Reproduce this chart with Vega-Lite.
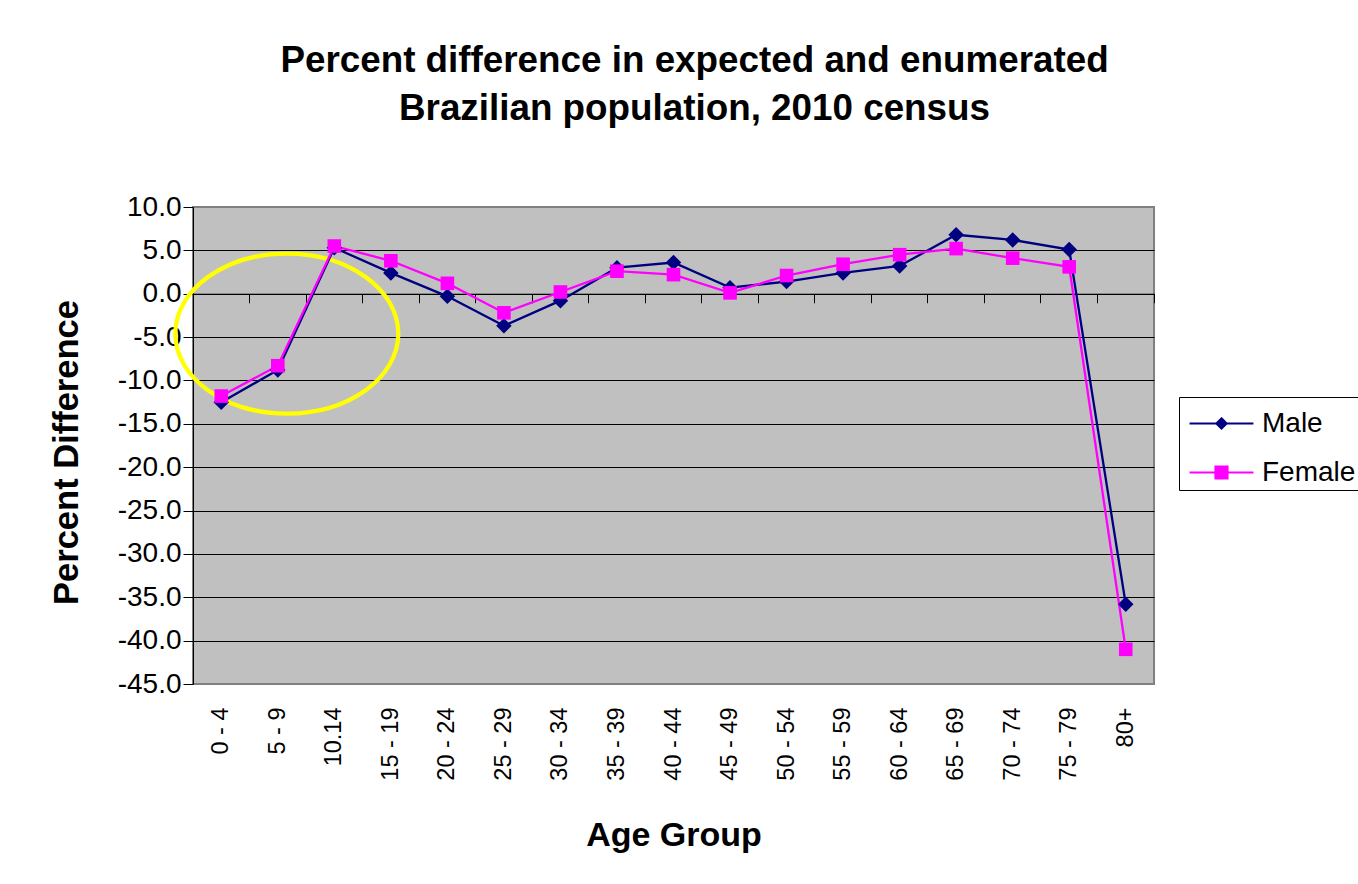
{
  "$schema": "https://vega.github.io/schema/vega-lite/v6.json",
  "width": 961,
  "height": 477,
  "autosize": {"type": "none"},
  "padding": {"left": 193, "top": 207, "right": 204, "bottom": 200},
  "background": "white",
  "title": {
    "text": ["Percent difference in expected and enumerated", "Brazilian population, 2010 census"],
    "font": "Liberation Sans",
    "fontSize": 36.8,
    "fontWeight": "bold",
    "lineHeight": 48,
    "color": "black",
    "anchor": "middle",
    "dx": 21,
    "offset": 65
  },
  "config": {
    "view": {"fill": "#C0C0C0", "stroke": "#808080", "strokeWidth": 2},
    "font": "Liberation Sans"
  },
  "data": {
    "values": [
      {"age": "0 - 4", "series": "Male", "value": -12.5},
      {"age": "5 - 9", "series": "Male", "value": -8.8},
      {"age": "10.14", "series": "Male", "value": 5.3},
      {"age": "15 - 19", "series": "Male", "value": 2.4},
      {"age": "20 - 24", "series": "Male", "value": -0.3},
      {"age": "25 - 29", "series": "Male", "value": -3.7},
      {"age": "30 - 34", "series": "Male", "value": -0.8},
      {"age": "35 - 39", "series": "Male", "value": 3.0},
      {"age": "40 - 44", "series": "Male", "value": 3.6},
      {"age": "45 - 49", "series": "Male", "value": 0.7},
      {"age": "50 - 54", "series": "Male", "value": 1.4},
      {"age": "55 - 59", "series": "Male", "value": 2.4},
      {"age": "60 - 64", "series": "Male", "value": 3.2},
      {"age": "65 - 69", "series": "Male", "value": 6.8},
      {"age": "70 - 74", "series": "Male", "value": 6.2},
      {"age": "75 - 79", "series": "Male", "value": 5.1},
      {"age": "80+", "series": "Male", "value": -35.8},
      {"age": "0 - 4", "series": "Female", "value": -11.8},
      {"age": "5 - 9", "series": "Female", "value": -8.3},
      {"age": "10.14", "series": "Female", "value": 5.5},
      {"age": "15 - 19", "series": "Female", "value": 3.8},
      {"age": "20 - 24", "series": "Female", "value": 1.2},
      {"age": "25 - 29", "series": "Female", "value": -2.2},
      {"age": "30 - 34", "series": "Female", "value": 0.2},
      {"age": "35 - 39", "series": "Female", "value": 2.6},
      {"age": "40 - 44", "series": "Female", "value": 2.2},
      {"age": "45 - 49", "series": "Female", "value": 0.1},
      {"age": "50 - 54", "series": "Female", "value": 2.1},
      {"age": "55 - 59", "series": "Female", "value": 3.4},
      {"age": "60 - 64", "series": "Female", "value": 4.5},
      {"age": "65 - 69", "series": "Female", "value": 5.2},
      {"age": "70 - 74", "series": "Female", "value": 4.1},
      {"age": "75 - 79", "series": "Female", "value": 3.1},
      {"age": "80+", "series": "Female", "value": -41.0}
    ]
  },
  "encoding": {
    "x": {
      "field": "age",
      "type": "nominal",
      "scale": {
        "type": "band",
        "domain": ["0 - 4", "5 - 9", "10.14", "15 - 19", "20 - 24", "25 - 29", "30 - 34", "35 - 39", "40 - 44", "45 - 49", "50 - 54", "55 - 59", "60 - 64", "65 - 69", "70 - 74", "75 - 79", "80+"],
        "paddingInner": 0,
        "paddingOuter": 0
      }
    },
    "y": {
      "field": "value",
      "type": "quantitative",
      "scale": {"domain": [-45, 10], "nice": false, "zero": false},
      "axis": {
        "values": [-45, -40, -35, -30, -25, -20, -15, -10, -5, 0, 5, 10],
        "labelExpr": "datum.value < 0 ? '-' + format(-datum.value, '.1f') : format(datum.value, '.1f')",
        "tickSize": 10,
        "tickColor": "black",
        "tickWidth": 1,
        "domain": true,
        "domainColor": "black",
        "domainWidth": 1,
        "labelFont": "Liberation Sans",
        "labelFontSize": 28,
        "labelColor": "black",
        "labelPadding": 2,
        "grid": true,
        "gridColor": {"condition": {"test": "datum.value == 10 || datum.value == -45", "value": "transparent"}, "value": "black"},
        "gridWidth": 1,
        "gridOpacity": 1,
        "title": "Percent Difference",
        "titleFont": "Liberation Sans",
        "titleFontSize": 34.5,
        "titleFontWeight": "bold",
        "titleColor": "black",
        "titleBaseline": "alphabetic",
        "titleX": -116,
        "titleY": 245
      }
    }
  },
  "layer": [
    {
      "data": {"values": [{"age": "5 - 9", "value": -4.6}]},
      "mark": {
        "type": "point",
        "shape": "M-1,0A1,0.7175,0,1,0,1,0A1,0.7175,0,1,0,-1,0Z",
        "size": 49729,
        "filled": false,
        "stroke": "#FFFF00",
        "strokeWidth": 4.3,
        "opacity": 1,
        "xOffset": 9
      },
      "encoding": {
        "x": {"field": "age", "type": "nominal", "axis": null}
      }
    },
    {
      "mark": {"type": "line", "strokeWidth": 2.3},
      "encoding": {
        "x": {
          "field": "age",
          "type": "nominal",
          "axis": {
            "orient": "bottom",
            "domain": false,
            "ticks": false,
            "tickSize": 0,
            "grid": false,
            "labelAngle": -90,
            "labelAlign": "right",
            "labelBaseline": "middle",
            "labelFont": "Liberation Sans",
            "labelFontSize": 23.5,
            "labelColor": "black",
            "labelPadding": 23,
            "title": "Age Group",
            "titleFont": "Liberation Sans",
            "titleFontSize": 34,
            "titleFontWeight": "bold",
            "titleColor": "black",
            "titleBaseline": "alphabetic",
            "titleY": 161
          }
        },
        "color": {
          "field": "series",
          "type": "nominal",
          "scale": {"domain": ["Male", "Female"], "range": ["#000080", "#FF00FF"]},
          "legend": {
            "orient": "none",
            "legendX": 986,
            "legendY": 190,
            "title": null,
            "strokeColor": "black",
            "fillColor": "white",
            "padding": 3,
            "labelFont": "Liberation Sans",
            "labelFontSize": 28,
            "labelColor": "black",
            "labelOffset": 17,
            "symbolOffset": 16,
            "rowPadding": 11,
            "symbolSize": 2025,
            "symbolStrokeWidth": 2,
            "symbolOpacity": 1,
            "symbolType": "M-1.42,0L1.42,0M0,-0.23L0.23,0L0,0.23L-0.23,0Z",
            "encode": {
              "symbols": {
                "update": {
                  "shape": {"signal": "datum.value === 'Male' ? 'M-1.42,0L1.42,0M0,-0.23L0.23,0L0,0.23L-0.23,0Z' : 'M-1.42,0L1.42,0M-0.27,-0.27L0.27,-0.27L0.27,0.27L-0.27,0.27Z'"},
                  "fill": {"scale": "color", "field": "value"},
                  "stroke": {"scale": "color", "field": "value"}
                }
              }
            }
          }
        }
      }
    },
    {
      "transform": [{"filter": "datum.series === 'Male'"}],
      "mark": {"type": "point", "filled": true, "shape": "diamond", "size": 240, "opacity": 1},
      "encoding": {
        "x": {
          "field": "age",
          "type": "nominal",
          "axis": {
            "orient": "bottom",
            "offset": {"expr": "scale('y', 0) - height"},
            "labels": false,
            "ticks": true,
            "tickSize": 9,
            "tickColor": "black",
            "tickWidth": 1,
            "domain": true,
            "domainColor": "black",
            "domainWidth": 1,
            "bandPosition": 1,
            "tickExtra": true,
            "grid": false,
            "title": null
          }
        },
        "color": {"field": "series", "type": "nominal", "legend": null}
      }
    },
    {
      "transform": [{"filter": "datum.series === 'Female'"}],
      "mark": {"type": "point", "filled": true, "shape": "square", "size": 185, "opacity": 1},
      "encoding": {
        "x": {"field": "age", "type": "nominal", "axis": null},
        "color": {"field": "series", "type": "nominal", "legend": null}
      }
    }
  ],
  "resolve": {"axis": {"x": "independent"}}
}
